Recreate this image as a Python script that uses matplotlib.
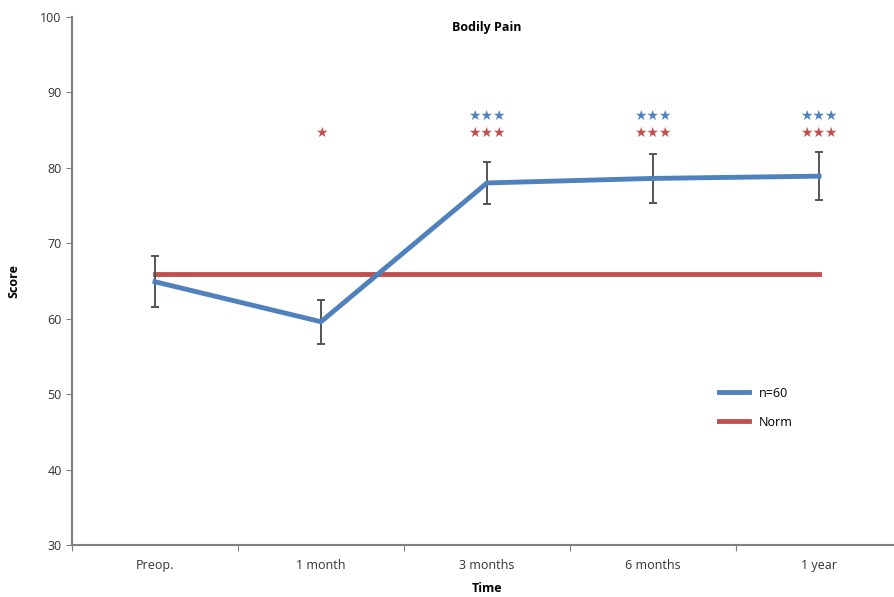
import numpy as np
import matplotlib.pyplot as plt

# data
categories = ['Preop.', '1 month', '3 months', '6 months', '1 year']
scores = [64.9, 59.6, 78.0, 78.6, 78.9]
errors = [3.4, 2.9, 2.8, 3.2, 3.2]
norm = 65.9
# significance markers above each time point
blue_stars = [2, 3, 4]
red_stars = [1, 2, 3, 4]
red_star_text = ['★', '★★★', '★★★', '★★★']

blue = '#4F81BD'
red = '#C0504D'
grey = '#808080'

plt.rcParams['font.family'] = ['Open Sans', 'DejaVu Sans']

fig = plt.figure(figsize=(8.94, 5.97), dpi=100)
ax = fig.add_axes([72 / 894, 52 / 597, 830 / 894, 528 / 597])

x = np.arange(len(categories))
ax.plot([x[0], x[-1]], [norm, norm], color=red, lw=3.5, label='Norm', zorder=2)
ax.errorbar(x, scores, yerr=errors, fmt='none', ecolor='#555555', elinewidth=1.4,
            capsize=3, capthick=1.4, zorder=3)
ax.plot(x, scores, color=blue, lw=3.5, label='n=60', zorder=4)

for i in blue_stars:
    ax.text(x[i], 86.9, '★★★', color=blue, ha='center', va='center', fontsize=10,
            family='DejaVu Sans')
for i, s in zip(red_stars, red_star_text):
    ax.text(x[i], 84.6, s, color=red, ha='center', va='center', fontsize=10,
            family='DejaVu Sans')

ax.set_xlim(-0.5, len(categories) - 0.5)
ax.set_ylim(30, 100)
ax.set_yticks(np.arange(30, 101, 10))
ax.set_xticks(np.arange(-0.5, len(categories), 1))
ax.set_xticklabels([])
ax.set_xticks(x, minor=True)
ax.set_xticklabels(categories, minor=True)
ax.tick_params(axis='x', which='minor', length=0, pad=10, labelsize=9, labelcolor='#333333')
ax.tick_params(axis='x', which='major', length=4, color=grey)
ax.tick_params(axis='y', length=4, color=grey, labelsize=9, labelcolor='#333333')

for s in ['top', 'right']:
    ax.spines[s].set_visible(False)
for s in ['left', 'bottom']:
    ax.spines[s].set_color(grey)
    ax.spines[s].set_linewidth(1.5)

fig.text(487 / 894, 1 - 27 / 597, 'Bodily Pain', fontsize=9, fontweight='bold',
         ha='center', va='center')
fig.text(14 / 894, 1 - 281 / 597, 'Score', fontsize=9, fontweight='bold',
         rotation=90, ha='center', va='center')
fig.text(487 / 894, 1 - 589 / 597, 'Time', fontsize=9, fontweight='bold',
         ha='center', va='center')

handles, labels = ax.get_legend_handles_labels()
ax.legend(handles[::-1], labels[::-1], loc='center left', bbox_to_anchor=(0.766, 0.26),
          frameon=False, fontsize=9, handlelength=2.4, labelspacing=1.3)

fig.savefig('out.png', dpi=100)
